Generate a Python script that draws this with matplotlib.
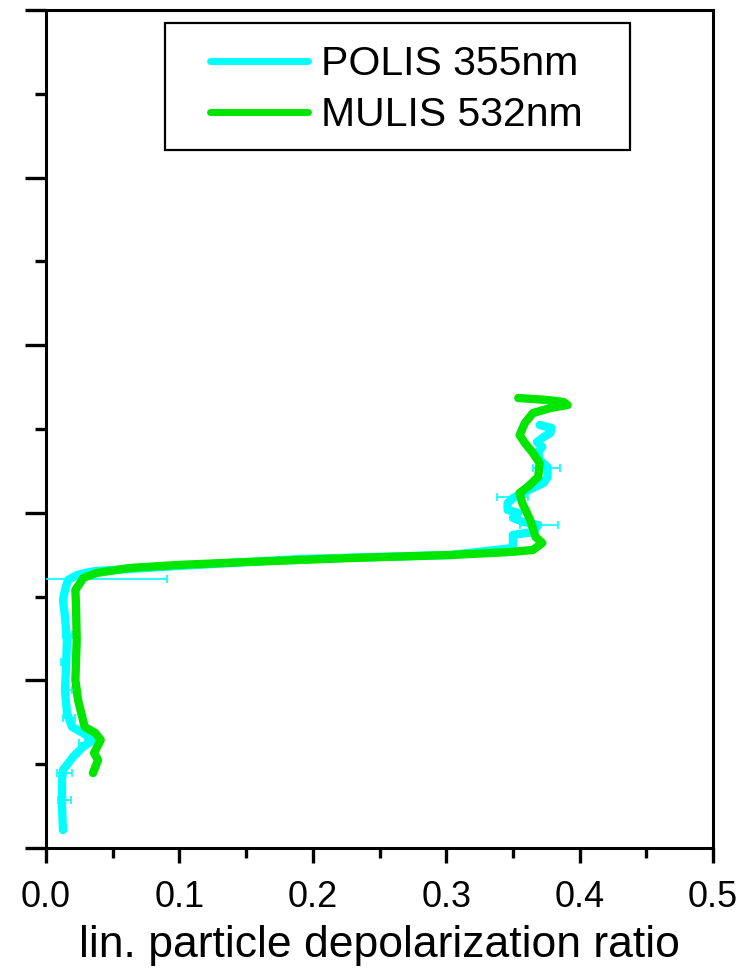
import numpy as np
import matplotlib.pyplot as plt
from matplotlib.patches import Rectangle
from matplotlib.ticker import MultipleLocator, NullFormatter

plt.rcParams['font.family'] = ['Liberation Sans', 'DejaVu Sans']

# POLIS 355 nm depolarization profile (ratio, altitude in km)
polis_ratio = [0.0127, 0.012, 0.012, 0.0127, 0.0202, 0.0277, 0.0352, 0.0277,
               0.0195, 0.0157, 0.0142, 0.015, 0.0157, 0.0142, 0.0127, 0.0142,
               0.0165, 0.0232, 0.033, 0.038, 0.100, 0.190, 0.303, 0.350,
               0.350, 0.365, 0.369, 0.358, 0.350, 0.354, 0.346, 0.346,
               0.350, 0.357, 0.365, 0.373, 0.376, 0.376, 0.370, 0.369,
               0.372, 0.368, 0.373, 0.378, 0.379, 0.370]
polis_alt = [0.107, 0.245, 0.406, 0.465, 0.543, 0.603, 0.644, 0.686,
             0.722, 0.805, 0.943, 1.080, 1.241, 1.378, 1.480, 1.539,
             1.599, 1.629, 1.647, 1.653, 1.683, 1.724, 1.748, 1.790,
             1.868, 1.885, 1.927, 1.945, 1.969, 1.999, 2.017, 2.058,
             2.088, 2.118, 2.148, 2.178, 2.214, 2.273, 2.315, 2.363,
             2.393, 2.422, 2.452, 2.476, 2.506, 2.524]

# POLIS error bars
err_ratio = [0.0135, 0.0139, 0.027, 0.0172, 0.0157, 0.0135, 0.016, 0.022,
             0.3696, 0.350, 0.375]
err_alt = [0.286, 0.447, 0.626, 0.776, 0.943, 1.110, 1.271, 1.605,
           1.927, 2.094, 2.267]
err_size = [0.0049, 0.0056, 0.002, 0.0045, 0.0037, 0.002, 0.0034, 0.069,
            0.0142, 0.0116, 0.010]

# MULIS 532 nm depolarization profile
mulis_ratio = [0.0352, 0.039, 0.036, 0.041, 0.037, 0.029, 0.024, 0.022,
               0.023, 0.0225, 0.022, 0.028, 0.038, 0.063, 0.100, 0.150,
               0.228, 0.303, 0.348, 0.365, 0.372, 0.367, 0.363, 0.357,
               0.355, 0.361, 0.369, 0.370, 0.365, 0.359, 0.355, 0.359,
               0.365, 0.378, 0.391, 0.388, 0.376, 0.354]
mulis_alt = [0.447, 0.525, 0.567, 0.644, 0.686, 0.722, 0.883, 1.002,
             1.241, 1.438, 1.539, 1.611, 1.641, 1.671, 1.689, 1.706,
             1.730, 1.748, 1.766, 1.778, 1.820, 1.856, 1.957, 2.058,
             2.118, 2.154, 2.214, 2.297, 2.357, 2.416, 2.464, 2.536,
             2.595, 2.625, 2.643, 2.661, 2.673, 2.685]

cyan = '#00ffff'
green = '#00e600'

fig = plt.figure(figsize=(7.46, 9.72), dpi=100)
ax = fig.add_axes([0.0617, 0.1276, 0.8941, 0.8621])

ax.plot(polis_ratio, polis_alt, color=cyan, lw=6, solid_capstyle='round',
        solid_joinstyle='round', label='POLIS 355nm', zorder=2)
ax.errorbar(err_ratio, err_alt, xerr=err_size, fmt='none', ecolor=cyan,
            elinewidth=1.2, capsize=3, capthick=1.2, zorder=3)
ax.plot(mulis_ratio, mulis_alt, color=green, lw=6, solid_capstyle='round',
        solid_joinstyle='round', label='MULIS 532nm', zorder=4)

ax.set_xlim(0, 0.5)
ax.set_ylim(0, 5)
ax.xaxis.set_major_locator(MultipleLocator(0.1))
ax.xaxis.set_minor_locator(MultipleLocator(0.05))
ax.yaxis.set_major_locator(MultipleLocator(1))
ax.yaxis.set_minor_locator(MultipleLocator(0.5))
ax.yaxis.set_major_formatter(NullFormatter())
ax.xaxis.set_major_formatter(plt.FuncFormatter(lambda v, p: f'{v:.1f}'))

for s in ax.spines.values():
    s.set_linewidth(2.2)
ax.tick_params(axis='x', which='major', direction='out', length=11, width=2.4,
               labelsize=26, pad=12)
ax.tick_params(axis='x', which='minor', direction='out', length=7, width=2.4)
ax.tick_params(axis='y', which='major', direction='out', length=15, width=2.4)
ax.tick_params(axis='y', which='minor', direction='out', length=8, width=2.4)

ax.set_xlabel('lin. particle depolarization ratio', fontsize=32, labelpad=7)

leg = ax.legend(loc='upper left', bbox_to_anchor=(0.2459, 0.958),
                frameon=False, fontsize=29.5, handlelength=2.4,
                handletextpad=0.3, borderpad=0, borderaxespad=0,
                labelspacing=0.32)
for ln in leg.get_lines():
    ln.set_linewidth(5)
ax.add_patch(Rectangle((0.178, 0.833), 0.698, 0.1515, transform=ax.transAxes,
                       fill=False, edgecolor='black', lw=1.6, zorder=5))

fig.savefig('out.png', dpi=100)
